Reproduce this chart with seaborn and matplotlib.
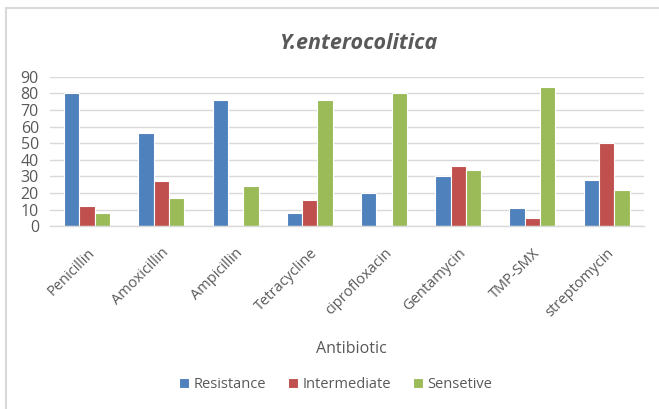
import pandas as pd
import numpy as np
import matplotlib
matplotlib.use("Agg")
import matplotlib.pyplot as plt
import seaborn as sns
from matplotlib.lines import Line2D

sns.set_theme(style="white")
plt.rcParams['font.family'] = ['Open Sans', 'DejaVu Sans']

antibiotics = ["Penicillin", "Amoxicillin", "Ampicillin", "Tetracycline",
               "ciprofloxacin", "Gentamycin", "TMP-SMX", "streptomycin"]
resistance = [80, 56, 76, 8, 20, 30, 11, 28]
intermediate = [12, 27, 0, 16, 0, 36, 5, 50]
sensetive = [8, 17, 24, 76, 80, 34, 84, 22]
series = ["Resistance", "Intermediate", "Sensetive"]
colors = ["#4F81BD", "#C0504D", "#9BBB59"]

df = pd.DataFrame({"Antibiotic": antibiotics, "Resistance": resistance,
                   "Intermediate": intermediate, "Sensetive": sensetive})
long = df.melt(id_vars="Antibiotic", var_name="Result", value_name="Value")

txt = "#595959"
fig = plt.figure(figsize=(6.59, 4.09), dpi=100)
ax = fig.add_axes([0.0759, 0.447, 0.901, 0.365])

sns.barplot(data=long, x="Antibiotic", y="Value", hue="Result",
            hue_order=series, palette=colors, saturation=1, width=0.62,
            edgecolor="white", linewidth=0.8, ax=ax)

ax.set_ylim(0, 90)
ax.set_xlim(-0.5, len(antibiotics) - 0.5)
ax.set_yticks(range(0, 91, 10))
ax.yaxis.grid(True, color="#D9D9D9", linewidth=1)
ax.set_axisbelow(True)
for s in ["top", "right", "left"]:
    ax.spines[s].set_visible(False)
ax.spines["bottom"].set_color("#D9D9D9")
ax.spines["bottom"].set_linewidth(1)

ax.tick_params(axis="y", length=0, labelsize=11.5, labelcolor=txt, pad=8)
ax.tick_params(axis="x", which="major", length=0, labelsize=10.5, labelcolor=txt, pad=14)
ax.set_xticks(np.arange(-0.5, len(antibiotics)), minor=True)
ax.tick_params(axis="x", which="minor", length=5, color="#D9D9D9", width=1)
plt.setp(ax.get_xticklabels(), rotation=45, ha="right", rotation_mode="anchor")

ax.set_ylabel("")
ax.set_xlabel("Antibiotic", fontsize=11.5, color=txt)
ax.xaxis.set_label_coords(0.507, -0.77)

fig.text(0.543, 0.893, "Y.enterocolitica", ha="center", va="center",
         fontsize=15.5, fontweight="bold", fontstyle="italic", color=txt)

ax.legend(loc="center", bbox_to_anchor=(0.481, -1.06), ncol=3, frameon=False,
          fontsize=10.5, labelcolor=txt, handlelength=0.7, handleheight=0.7,
          handletextpad=0.3, columnspacing=1.5)

fig.add_artist(Line2D([5.5 / 659, 5.5 / 659], [0, 1 - 7.5 / 409],
                      transform=fig.transFigure, color="#D9D9D9", linewidth=1.5))
fig.add_artist(Line2D([5.5 / 659, 1], [1 - 7.5 / 409, 1 - 7.5 / 409],
                      transform=fig.transFigure, color="#D9D9D9", linewidth=1.5))

fig.savefig("out.png", dpi=100)
